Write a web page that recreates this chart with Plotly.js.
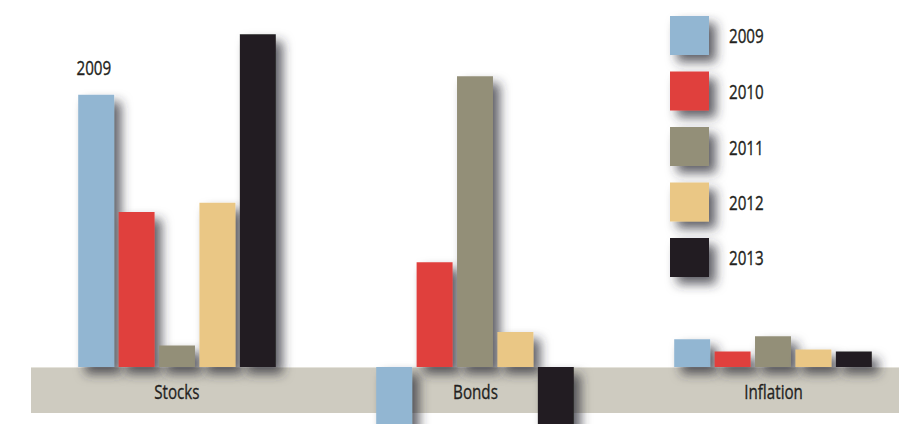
<!DOCTYPE html>
<html>
<head>
<meta charset="utf-8">
<script src="https://cdn.plot.ly/plotly-3.0.1.min.js"></script>
<style>html,body{margin:0;padding:0;background:#fff;}#chart{width:899px;height:424px;}</style>
</head>
<body>
<div id="chart"></div>
<script>
// ---- data ----
const categories = ['Stocks', 'Bonds', 'Inflation'];
const years = ['2009', '2010', '2011', '2012', '2013'];
const colors = ['#92b6d2', '#e0413e', '#938f78', '#eac785', '#231f20'];
const v2009 = [26.5, -14.9, 2.7];
const v2010 = [15.1, 10.2, 1.5];
const v2011 = [2.1, 28.3, 3.0];
const v2012 = [16.0, 3.4, 1.7];
const v2013 = [32.4, -12.8, 1.5];
const series = [v2009, v2010, v2011, v2012, v2013];

const W = 899, H = 424, L = 28;
const PW = W - L;
const FONT = '"Open Sans", Lato, sans-serif';
const TXT = '#231f20';
const SCALE_X = 0.76;
const px2x = p => (p - L) / PW;
const px2y = p => (H - p) / H;

const traces = series.map((vals, i) => ({
  type: 'bar',
  name: years[i],
  x: categories,
  y: vals,
  marker: {color: colors[i], line: {width: 0}},
  hoverinfo: 'x+y+name'
}));

const shapes = [{
  type: 'rect', layer: 'below', xref: 'paper', yref: 'paper',
  x0: px2x(31), x1: 1, y0: px2y(413), y1: px2y(367),
  fillcolor: '#cecbc0', line: {width: 0}
}, {
  type: 'line', layer: 'below', xref: 'paper', yref: 'paper',
  x0: px2x(31), x1: 1, y0: px2y(367.5), y1: px2y(367.5),
  line: {color: '#e4e2da', width: 1}
}];
const annotations = categories.map(c => ({
  x: c, xref: 'x', yref: 'paper', y: px2y(391), yanchor: 'middle',
  text: c, showarrow: false, font: {family: FONT, size: 20, color: TXT}
}));
annotations.push({
  x: categories[0], xref: 'x', xshift: -83, y: series[0][0], yref: 'y',
  yanchor: 'bottom', yshift: 12, text: years[0], showarrow: false,
  font: {family: FONT, size: 20, color: TXT}
});
years.forEach((yr, i) => {
  const top = 16 + i * 55.5;
  shapes.push({
    type: 'rect', layer: 'above', xref: 'paper', yref: 'paper',
    x0: px2x(670), x1: px2x(709), y0: px2y(top + 39), y1: px2y(top),
    fillcolor: colors[i], line: {width: 0}
  });
  annotations.push({
    xref: 'paper', yref: 'paper', x: px2x(727), y: px2y(top + 20),
    xanchor: 'left', yanchor: 'middle', text: yr, showarrow: false,
    font: {family: FONT, size: 20, color: TXT}
  });
});

const pxPerUnit = 10.27;
const layout = {
  width: W, height: H,
  margin: {l: L, r: 0, t: 0, b: 0},
  paper_bgcolor: '#ffffff', plot_bgcolor: 'rgba(0,0,0,0)',
  barmode: 'group', bargap: 0.322, bargroupgap: 0.11,
  showlegend: false,
  xaxis: {type: 'category', range: [-0.5, -0.5 + PW / 298], showticklabels: false,
          showgrid: false, zeroline: false, showline: false, ticks: ''},
  yaxis: {range: [-(H - 367) / pxPerUnit, 367 / pxPerUnit], showticklabels: false,
          showgrid: false, zeroline: false, showline: false, ticks: ''},
  shapes: shapes,
  annotations: annotations
};

Plotly.newPlot('chart', traces, layout, {staticPlot: true}).then(gd => {
  // condense the annotation lettering (reference uses a condensed face)
  gd.querySelectorAll('.annotation').forEach(g => {
    const idx = +g.getAttribute('data-index');
    const t = g.querySelector('text.annotation-text');
    if (!t) return;
    const bb = t.getBBox();
    const left = annotations[idx] && annotations[idx].xanchor === 'left';
    const px = left ? bb.x : bb.x + bb.width / 2;
    t.setAttribute('transform', `translate(${px},0) scale(${SCALE_X},1) translate(${-px},0)`);
    t.style.stroke = TXT;
    t.style.strokeWidth = '0.35px';
  });
  const svg = gd.querySelector('.main-svg');
  const ns = 'http://www.w3.org/2000/svg';
  let defs = svg.querySelector('defs');
  if (!defs) { defs = document.createElementNS(ns, 'defs'); svg.insertBefore(defs, svg.firstChild); }
  const f = document.createElementNS(ns, 'filter');
  f.setAttribute('id', 'dshadow');
  f.setAttribute('x', '-100%'); f.setAttribute('y', '-200%');
  f.setAttribute('width', '400%'); f.setAttribute('height', '600%');
  const ds = document.createElementNS(ns, 'feDropShadow');
  ds.setAttribute('dx', '7'); ds.setAttribute('dy', '7');
  ds.setAttribute('stdDeviation', '5.5');
  ds.setAttribute('flood-color', '#2e2e38'); ds.setAttribute('flood-opacity', '0.75');
  f.appendChild(ds); defs.appendChild(f);
  gd.querySelectorAll('.barlayer .point path').forEach(p => p.setAttribute('filter', 'url(#dshadow)'));
  gd.querySelectorAll('.layer-above .shapelayer path').forEach(p => p.setAttribute('filter', 'url(#dshadow)'));
});
</script>
</body>
</html>
